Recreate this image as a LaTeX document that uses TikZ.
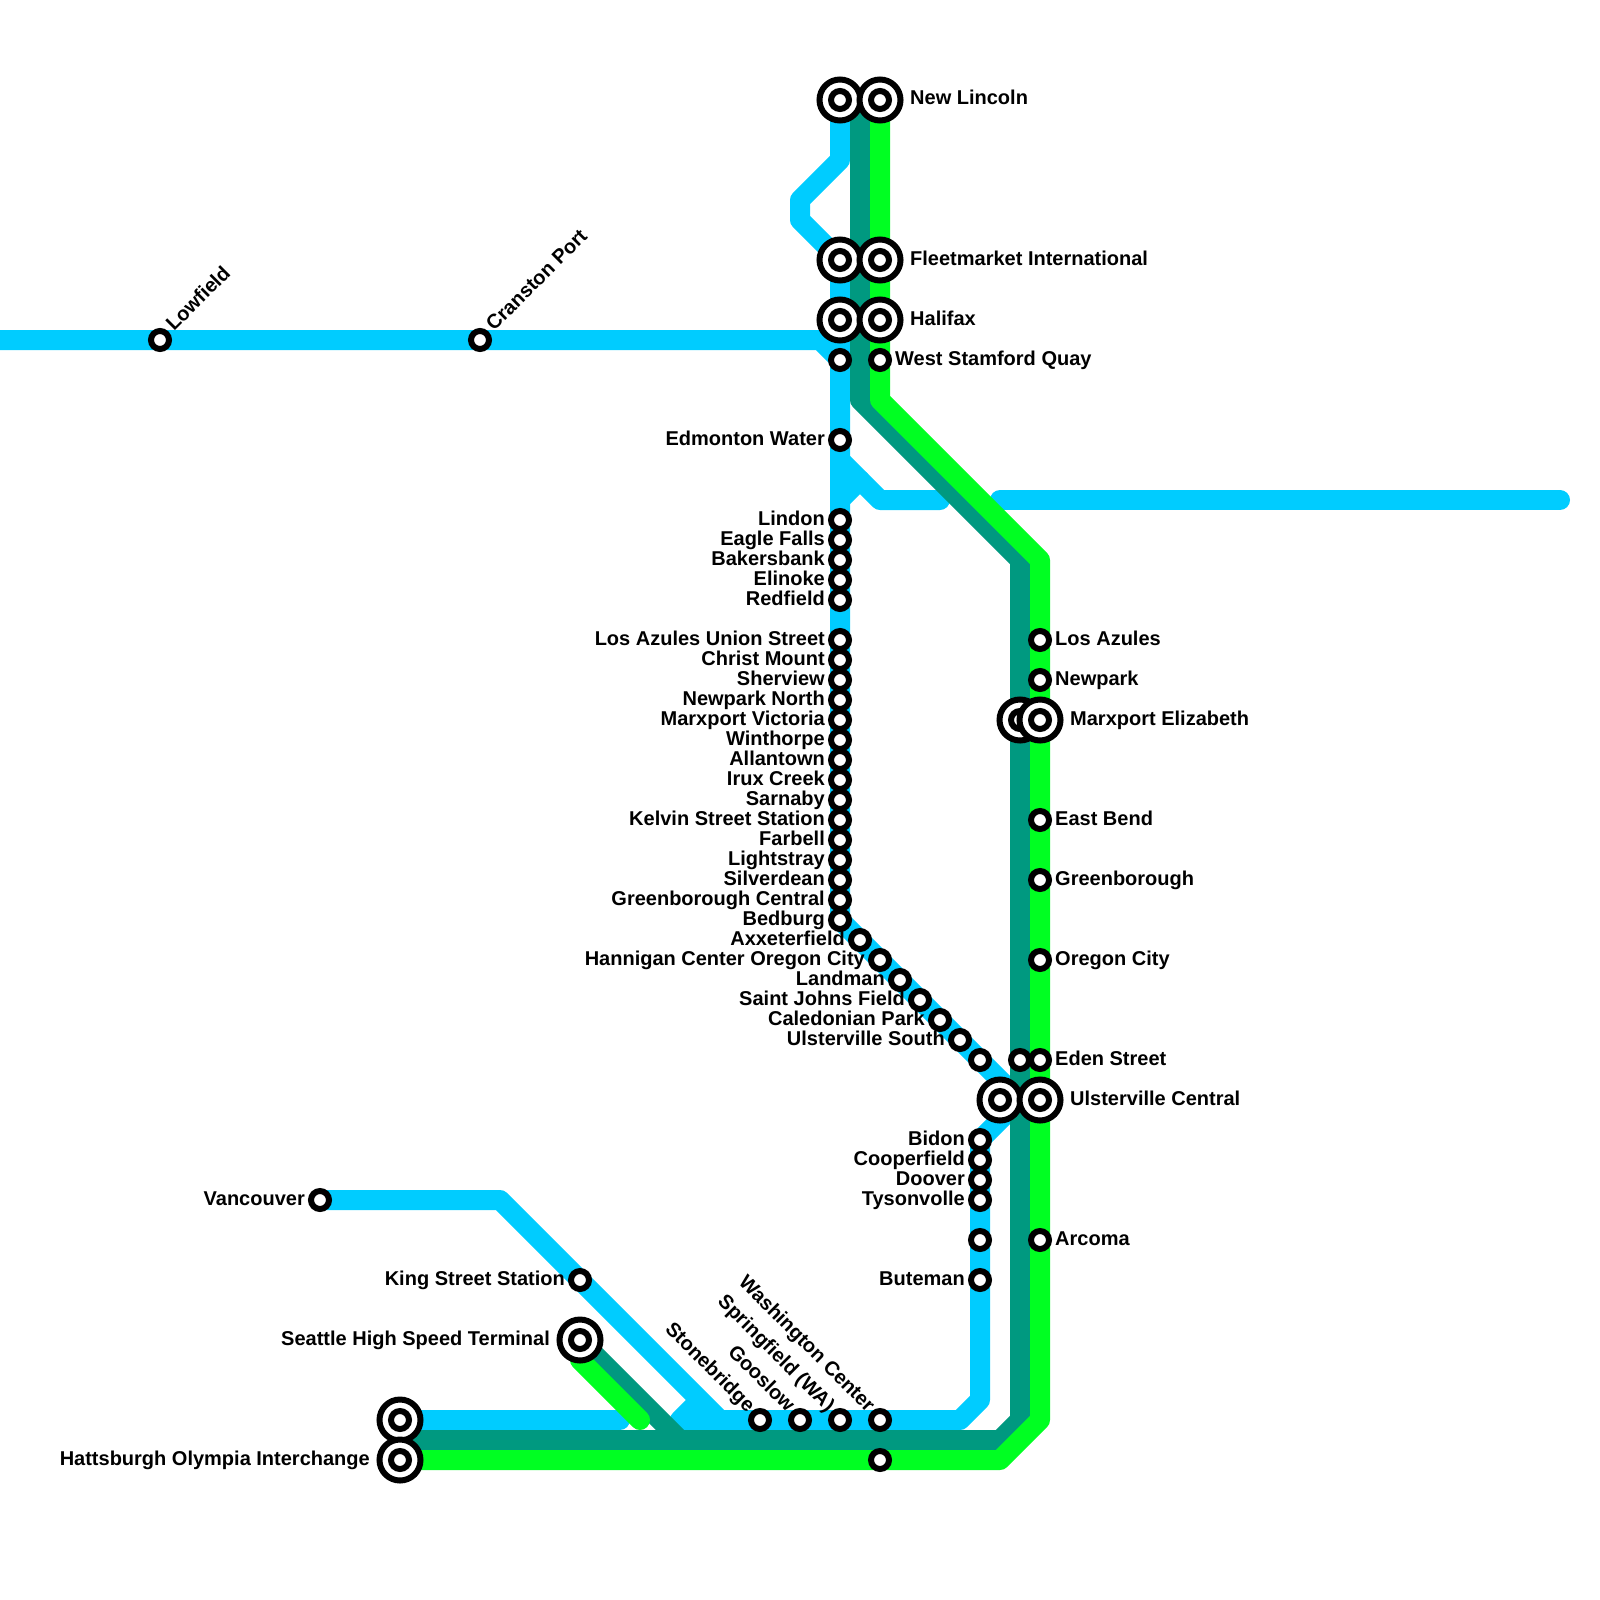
\documentclass[tikz,border=0pt]{standalone}
\usepackage{fontspec}
\setmainfont{Liberation Sans}
\usetikzlibrary{backgrounds}
\definecolor{lineblue}{HTML}{00CCFF}
\definecolor{lineteal}{HTML}{009980}
\definecolor{linegreen}{HTML}{00FF22}
\tikzset{
  x=1pt,y=-1pt,
  railline/.style={line width=20pt,line cap=round,line join=round},
  blueline/.style={railline,draw=lineblue},
  tealline/.style={railline,draw=lineteal},
  greenline/.style={railline,draw=linegreen},
  stop/.style={circle,draw=black,fill=white,line width=6pt,minimum size=18pt,inner sep=0pt},
  hub/.style={circle,draw=black,fill=white,line width=6pt,minimum size=41pt,inner sep=0pt,
    path picture={\draw[line width=6pt] (path picture bounding box.center) circle (9pt);}},
  lbl/.style={font=\fontsize{20}{22}\selectfont\bfseries,inner sep=0pt,text=black},
  lblr/.style={lbl,anchor=base west},
  lbll/.style={lbl,anchor=base east},
  lblup/.style={lbl,anchor=base west,rotate=45},
  lbldn/.style={lbl,anchor=base east,rotate=-45},
}
\begin{document}
\begin{tikzpicture}
\useasboundingbox (0,0) rectangle (1600,1600);
% free junction points
\coordinate (wEnd) at (0,340);
\coordinate (wBend) at (820,340);
\coordinate (bA) at (840,160);
\coordinate (bB) at (800,200);
\coordinate (bC) at (800,220);
\coordinate (bD) at (840,920);
\coordinate (bE) at (1020,1100);
\coordinate (bF) at (980,1140);
\coordinate (bG) at (980,1400);
\coordinate (bH) at (960,1420);
\coordinate (bI) at (680,1420);
\coordinate (bJ) at (700,1400);
\coordinate (bK) at (500,1200);
\coordinate (bL) at (720,1420);
\coordinate (bM) at (840,460);
\coordinate (bN) at (880,500);
\coordinate (bO) at (940,500);
\coordinate (bP) at (840,500);
\coordinate (bQ) at (860,480);
\coordinate (bR) at (1000,500);
\coordinate (bS) at (1560,500);
\coordinate (bT) at (620,1420);
\coordinate (tA) at (860,100);
\coordinate (tB) at (860,400);
\coordinate (tC) at (1020,560);
\coordinate (tD) at (1020,1420);
\coordinate (tE) at (1000,1440);
\coordinate (tF) at (680,1440);
\coordinate (gB) at (880,400);
\coordinate (gC) at (1040,560);
\coordinate (gD) at (1040,1420);
\coordinate (gE) at (1000,1460);
\coordinate (gF) at (580,1360);
\coordinate (gG) at (640,1420);
\coordinate (tH) at (400,1440);

% stations
\node[stop] (lowfield) at (160,340) {};
\node[stop] (cranston) at (480,340) {};
\node[hub] (newA) at (840,100) {};
\node[hub] (newB) at (880,100) {};
\node[hub] (fleetA) at (840,260) {};
\node[hub] (fleetB) at (880,260) {};
\node[hub] (halA) at (840,320) {};
\node[hub] (halB) at (880,320) {};
\node[stop] (westA) at (840,360) {};
\node[stop] (westB) at (880,360) {};
\foreach \n/\y/\t in {
  edmonton/440/Edmonton Water, lindon/520/Lindon, eagle/540/Eagle Falls, bakers/560/Bakersbank,
  elinoke/580/Elinoke, redfield/600/Redfield, union/640/Los Azules Union Street,
  christ/660/Christ Mount, sherview/680/Sherview, newparkN/700/Newpark North,
  marxV/720/Marxport Victoria, winthorpe/740/Winthorpe, allantown/760/Allantown,
  irux/780/Irux Creek, sarnaby/800/Sarnaby, kelvin/820/Kelvin Street Station,
  farbell/840/Farbell, lightstray/860/Lightstray, silverdean/880/Silverdean,
  greenC/900/Greenborough Central, bedburg/920/Bedburg}{
  \node[stop] (\n) at (840,\y) {};
  \node[lbll] (\n-l) at ([shift={(-15,5)}]\n.center) {\t};
}
\foreach \n/\x/\y/\t in {
  axxe/860/940/Axxeterfield, hannigan/880/960/Hannigan Center Oregon City, landman/900/980/Landman,
  saintj/920/1000/Saint Johns Field, caledonian/940/1020/Caledonian Park, ulsterS/960/1040/Ulsterville South}{
  \node[stop] (\n) at (\x,\y) {};
  \node[lbll] (\n-l) at ([shift={(-15,5)}]\n.center) {\t};
}
\node[stop] (edenA) at (980,1060) {};
\node[stop] (edenB) at (1020,1060) {};
\foreach \n/\y/\t in {
  azules/640/Los Azules, newpark/680/Newpark, eastbend/820/East Bend, greenb/880/Greenborough,
  oregon/960/Oregon City, eden/1060/Eden Street, arcoma/1240/Arcoma}{
  \node[stop] (\n) at (1040,\y) {};
  \node[lblr] (\n-l) at ([shift={(15,5)}]\n.center) {\t};
}
\node[hub] (marxA) at (1020,720) {};
\node[hub] (marxB) at (1040,720) {};
\node[hub] (ulsterA) at (1000,1100) {};
\node[hub] (ulsterB) at (1040,1100) {};
\foreach \n/\y/\t in {bidon/1140/Bidon, cooper/1160/Cooperfield, doover/1180/Doover, tyson/1200/Tysonvolle, buteman/1280/Buteman}{
  \node[stop] (\n) at (980,\y) {};
  \node[lbll] (\n-l) at ([shift={(-15,5)}]\n.center) {\t};
}
\node[stop] (unnamedB) at (980,1240) {};
\node[stop] (vancouver) at (320,1200) {};
\node[stop] (kingst) at (580,1280) {};
\node[hub] (seattle) at (580,1340) {};
\node[hub] (hattA) at (400,1420) {};
\node[hub] (hattB) at (400,1460) {};
\node[stop] (stone) at (760,1420) {};
\node[stop] (goos) at (800,1420) {};
\node[stop] (spring) at (840,1420) {};
\node[stop] (wash) at (880,1420) {};
\node[stop] (bottomE) at (880,1460) {};

% labels
\node[lblup] (lowfield-l) at ([shift={(14,-8)}]lowfield.center) {Lowfield};
\node[lblup] (cranston-l) at ([shift={(14,-8)}]cranston.center) {Cranston Port};
\node[lblr] (new-l) at ([shift={(30,5)}]newB.center) {New Lincoln};
\node[lblr] (fleet-l) at ([shift={(30,5)}]fleetB.center) {Fleetmarket International};
\node[lblr] (hal-l) at ([shift={(30,5)}]halB.center) {Halifax};
\node[lblr] (west-l) at ([shift={(15,5)}]westB.center) {West Stamford Quay};
\node[lblr] (marx-l) at ([shift={(30,5)}]marxB.center) {Marxport Elizabeth};
\node[lblr] (ulster-l) at ([shift={(30,5)}]ulsterB.center) {Ulsterville Central};
\node[lbll] (van-l) at ([shift={(-15,5)}]vancouver.center) {Vancouver};
\node[lbll] (king-l) at ([shift={(-15,5)}]kingst.center) {King Street Station};
\node[lbll] (sea-l) at ([shift={(-30,5)}]seattle.center) {Seattle High Speed Terminal};
\node[lbll] (hatt-l) at ([shift={(-30,5)}]hattB.center) {Hattsburgh Olympia Interchange};
\node[lbldn] (stone-l) at ([shift={(-13,-7)}]stone.center) {Stonebridge};
\node[lbldn] (goos-l) at ([shift={(-13,-7)}]goos.center) {Gooslow};
\node[lbldn] (spring-l) at ([shift={(-13,-7)}]spring.center) {Springfield (WA)};
\node[lbldn] (wash-l) at ([shift={(-13,-7)}]wash.center) {Washington Center};

% lines beneath the stations
\begin{scope}[on background layer]
  \draw[blueline,line cap=butt] (wEnd) -- (wBend) -- (westA.center) -- (bD) -- (bE) -- (bF) -- (bG) -- (bH) -- (bI) -- (bJ);
  \draw[blueline] (newA.center) -- (bA) -- (bB) -- (bC) -- (fleetA.center) -- (westA.center);
  \draw[blueline] (vancouver.center) -- (bK) -- (bL);
  \draw[blueline] (bM) -- (bN) -- (bO);
  \draw[blueline] (bP) -- (bQ);
  \draw[blueline] (bR) -- (bS);
  \draw[blueline] (hattA.center) -- (bT);
  \draw[tealline] (tA) -- (tB) -- (tC) -- (tD) -- (tE) -- (tH);
  \draw[tealline] (seattle.center) -- (tF);
  \draw[greenline] (newB.center) -- (gB) -- (gC) -- (gD) -- (gE) -- (hattB.center);
  \draw[greenline] (gF) -- (gG);
\end{scope}
\end{tikzpicture}
\end{document}
